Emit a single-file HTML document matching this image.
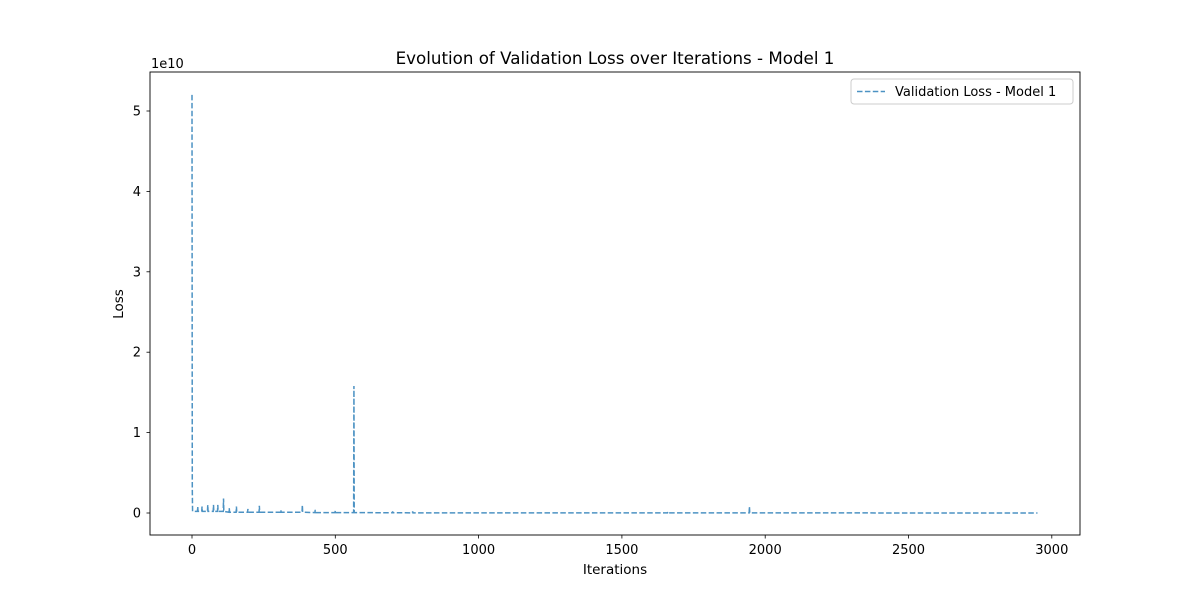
<!DOCTYPE html>
<html><head><meta charset="utf-8"><style>
body{margin:0;background:#fff;}
svg{font-family:"DejaVu Sans","Liberation Sans",sans-serif;}
</style></head><body>
<svg id="chart" width="1200" height="600" viewBox="0 0 1200 600">
<rect width="1200" height="600" fill="#fff"/>
<text x="615" y="64" text-anchor="middle" font-size="16.7">Evolution of Validation Loss over Iterations - Model 1</text>
<g id="plot"></g>
<rect x="150" y="72" width="930" height="463" fill="none" stroke="#000" stroke-width="0.9"/>
<text x="151" y="68" font-size="13">1e10</text>
<text x="615" y="574" text-anchor="middle" font-size="13.5">Iterations</text>
<text transform="translate(123,304) rotate(-90)" text-anchor="middle" font-size="13.5">Loss</text>
<g>
<rect x="851" y="79" width="222" height="25" rx="3" fill="#fff" stroke="#ccc"/>
<line x1="857" y1="91.5" x2="885" y2="91.5" stroke="#1f77b4" stroke-opacity="0.8" stroke-width="1.5" stroke-dasharray="5.5,2.4"/>
<text x="895" y="96" font-size="13">Validation Loss - Model 1</text>
</g>
</svg>
<script>
const iterations=[0,1,2,19,20,21,34,35,36,54,55,56,74,75,76,89,90,91,109,110,111,129,130,131,154,155,156,194,195,196,234,235,236,309,310,311,384,385,386,429,430,431,499,500,501,564,565,566,699,700,701,769,770,771,1659,1660,1661,1944,1945,1946,2950];
const lossValues=[5.2,0.3,0.02,0.02,0.08,0.02,0.02,0.08,0.02,0.02,0.1,0.02,0.02,0.1,0.02,0.02,0.1,0.02,0.02,0.18,0.02,0.01,0.06,0.01,0.01,0.08,0.01,0.01,0.05,0.01,0.01,0.09,0.01,0.01,0.04,0.01,0.01,0.1,0.01,0.005,0.04,0.005,0.005,0.03,0.005,0.005,1.58,0.005,0.003,0.02,0.003,0.002,0.02,0.002,0.001,0.015,0.001,0.001,0.08,0.001,0.0005];
const xTicks=[0,500,1000,1500,2000,2500,3000];
const yTicks=[0,1,2,3,4,5];
const NS='http://www.w3.org/2000/svg';
const xs=v=>192+v*(143.3/500);
const ys=v=>513-v*80.4;
const plot=document.getElementById('plot');
function mk(t,a){const e=document.createElementNS(NS,t);for(const k in a)e.setAttribute(k,a[k]);return e;}
xTicks.forEach(t=>{
  const x=xs(t);
  const l=mk('line',{x1:x,x2:x,y1:535,y2:538.5,stroke:'#000','stroke-width':0.8});
  
  
  plot.appendChild(l);
  const tx=mk('text',{x:x,y:554,'text-anchor':'middle','font-size':13});
  
  
  tx.textContent=t;plot.appendChild(tx);
});
yTicks.forEach(t=>{
  const y=ys(t);
  const l=mk('line',{x1:146.5,x2:150,y1:y,y2:y,stroke:'#000','stroke-width':0.8});
  
  
  plot.appendChild(l);
  const tx=mk('text',{x:141,y:y+4.5,'text-anchor':'end','font-size':13});
  
  
  tx.textContent=t;plot.appendChild(tx);
});
let d='';
iterations.forEach((it,i)=>{d+=(i?'L':'M')+xs(it).toFixed(2)+','+ys(lossValues[i]).toFixed(2);});
const p=mk('path',{d:d,fill:'none',stroke:'#1f77b4','stroke-opacity':0.8,'stroke-width':1.5,'stroke-dasharray':'5.5,2.4'});


plot.appendChild(p);
</script>
</body></html>
